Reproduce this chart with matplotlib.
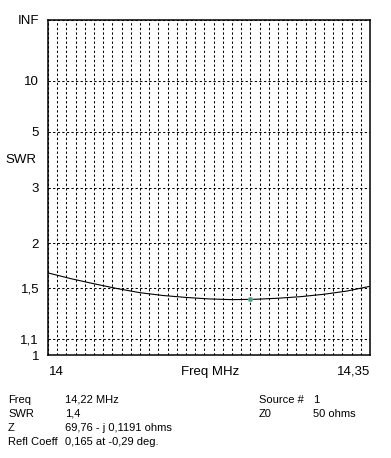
import numpy as np
import matplotlib
matplotlib.use("Agg")
import matplotlib.pyplot as plt

plt.rcParams['font.family'] = ['Liberation Sans', 'DejaVu Sans']

# SWR sweep
freq = [14.000, 14.025, 14.050, 14.075, 14.100, 14.125, 14.150, 14.175,
        14.200, 14.225, 14.250, 14.275, 14.300, 14.325, 14.350]
swr = [1.649, 1.59, 1.54, 1.495, 1.457, 1.432, 1.415, 1.402,
       1.396, 1.399, 1.408, 1.422, 1.443, 1.472, 1.516]

# cursor point
cur_freq = 14.22
cur_swr = 1.4

swr_ticks = [1, 1.1, 1.5, 2, 3, 5, 10]
swr_tick_labels = ["1", "1,1", "1,5", "2", "3", "5", "10"]

info_left = [("Freq", "14,22 MHz"), ("SWR", "1,4"),
             ("Z", "69,76 - j 0,1191 ohms"), ("Refl Coeff", "0,165 at -0,29 deg.")]
info_right = [("Source #", "1"), ("Z0", "50 ohms")]


def rho(s):
    s = np.asarray(s, dtype=float)
    return (s - 1) / (s + 1)


W, H = 391, 458
fig = plt.figure(figsize=(W / 100, H / 100), dpi=100)
ax = fig.add_axes([48 / W, (H - 355) / H, 322 / W, 335 / H])

ax.plot(freq, rho(swr), color="black", lw=0.8)
ax.plot([cur_freq], rho([cur_swr]), marker="o", ms=3.5,
        mfc="#2fb070", mec="#c8a0d8", mew=0.4, ls="none", zorder=5)

ax.set_xlim(14.0, 14.35)
ax.set_ylim(0, 1)

ax.set_xticks(np.arange(14.0, 14.3501, 0.01))
ax.set_xticklabels([])
ax.set_yticks(list(rho(swr_ticks)) + [1.0])
ax.set_yticklabels(swr_tick_labels + ["INF"], fontsize=9.5)
ax.tick_params(length=0, pad=6.5)
ax.grid(True, color="black", lw=0.75, ls=(0, (2.2, 2.2)))

for sp in ax.spines.values():
    sp.set_linewidth(1.1)

fig.text(36 / W, 1 - 160 / H, "SWR", fontsize=9.5, ha="right", va="center")
fig.text(49 / W, 1 - 372 / H, "14", fontsize=9.5, ha="left", va="center")
fig.text(210 / W, 1 - 372 / H, "Freq MHz", fontsize=9.5, ha="center", va="center")
fig.text(370 / W, 1 - 372 / H, "14,35", fontsize=9.5, ha="right", va="center")

rows_y = [400, 414, 428, 442]
for (lab, val), y in zip(info_left, rows_y):
    fig.text(8 / W, 1 - y / H, lab, fontsize=8, va="center")
    fig.text(65 / W, 1 - y / H, val, fontsize=8, va="center")
for (lab, val), y in zip(info_right, rows_y):
    fig.text(259 / W, 1 - y / H, lab, fontsize=8, va="center")
    fig.text(313 / W, 1 - y / H, val, fontsize=8, va="center")

fig.savefig("out.png", dpi=100)
